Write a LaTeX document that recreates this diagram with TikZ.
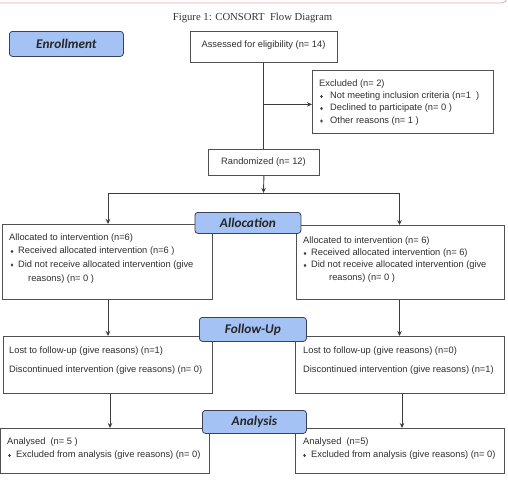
\documentclass[tikz,border=0pt]{standalone}
\usepackage{fontspec}
\setmainfont{Liberation Sans}
\newfontfamily\lblfont{Carlito}
\newfontfamily\titlefont{Liberation Serif}
\usetikzlibrary{arrows.meta}
\definecolor{lblue}{HTML}{A4C2F4}
\definecolor{lborder}{HTML}{3A4257}
\definecolor{linec}{HTML}{3C3C3C}
\definecolor{pinkline}{HTML}{E8A8A0}
\newcommand{\bulat}[2]{\fill[linec] (#1,#2) ++(0,-1.7) -- ++(1.3,1.7) -- ++(-1.3,1.7) -- ++(-1.3,-1.7) -- cycle;}
\begin{document}
\begin{tikzpicture}[x=1pt,y=-1pt,
  box/.style={draw=linec!90, line width=0.8pt, inner sep=0, anchor=north west},
  lbl/.style={draw=lborder, fill=lblue, line width=0.8pt, rounded corners=3pt, inner sep=0, anchor=north west,
     font=\lblfont\bfseries\itshape\fontsize{13.3}{15}\selectfont, text=black!85},
  txt/.style={inner sep=0, anchor=west, font=\fontsize{9.3}{11}\selectfont, text=black!82},
  conn/.style={draw=linec, line width=0.9pt},
  arr/.style={conn, -{Stealth[length=5pt,width=4.5pt]}}]
\useasboundingbox (0,0) rectangle (508,499);
% page border remnant
\draw[pinkline, line width=0.8pt] (-2,3) -- (500,3) .. controls (505,3) and (507,1) .. (507,-4);
% title
\node[inner sep=0, font=\titlefont\fontsize{10.7}{12}\selectfont, text=black!80] (title) at (252.5,18) {Figure 1: CONSORT\ \ Flow Diagram};
% enrollment
\node[lbl, minimum width=114pt, minimum height=25pt] (enr) at (9,31) {Enrollment};
\node[box, minimum width=147pt, minimum height=31pt] (assess) at (190,31) {};
\node[txt, anchor=center] (assesst) at (263.5,45.5) {Assessed for eligibility (n= 14)};
% excluded
\node[box, minimum width=181pt, minimum height=63pt] (excl) at (312,70) {};
\node[txt] (ex0) at (319,84) {Excluded (n= 2)};
\node[txt] (ex1) at (330,96.5) {Not meeting inclusion criteria (n=1\ \ )};
\node[txt] (ex2) at (330,108.5) {Declined to participate (n= 0 )};
\node[txt] (ex3) at (330,121) {Other reasons (n= 1 )};
\bulat{321.5}{96.5}\bulat{321.5}{108.5}\bulat{321.5}{121}
% randomized
\node[box, minimum width=111pt, minimum height=26pt] (rand) at (208,149) {};
\node[txt, anchor=center] (randt) at (263.5,162) {Randomized (n= 12)};
% allocation boxes
\node[box, minimum width=210pt, minimum height=75pt] (allL) at (2,224) {};
\node[txt] (al0) at (9,238.5) {Allocated to intervention (n=6)};
\node[txt] (al1) at (18,251.5) {Received allocated intervention (n=6 )};
\node[txt] (al2) at (18,265) {Did not receive allocated intervention (give};
\node[txt] (al3) at (28,279) {reasons) (n= 0 )};
\bulat{12}{251.5}\bulat{12}{265}
\node[box, minimum width=208pt, minimum height=74pt] (allR) at (296,225) {};
\node[txt] (ar0) at (303,241) {Allocated to intervention (n= 6)};
\node[txt] (ar1) at (311,253.5) {Received allocated intervention (n= 6)};
\node[txt] (ar2) at (311,265.5) {Did not receive allocated intervention (give};
\node[txt] (ar3) at (329,278) {reasons) (n= 0 )};
\bulat{305}{253.5}\bulat{305}{265.5}
% follow-up boxes
\node[box, minimum width=209pt, minimum height=57pt] (fuL) at (3,336) {};
\node[txt] (fl0) at (9,351) {Lost to follow-up (give reasons) (n=1)};
\node[txt] (fl1) at (9,370) {Discontinued intervention (give reasons) (n= 0)};
\node[box, minimum width=209pt, minimum height=57pt] (fuR) at (295,336) {};
\node[txt] (fr0) at (303,351) {Lost to follow-up (give reasons) (n=0)};
\node[txt] (fr1) at (303,370) {Discontinued intervention (give reasons) (n=1)};
% analysis boxes
\node[box, minimum width=209pt, minimum height=45pt] (anL) at (0,428) {};
\node[txt] (nl0) at (7,442) {Analysed\ \ (n= 5 )};
\node[txt] (nl1) at (16,455.5) {Excluded from analysis (give reasons) (n= 0)};
\bulat{9.5}{455.5}
\node[box, minimum width=209pt, minimum height=45pt] (anR) at (295,428) {};
\node[txt] (nr0) at (303,442) {Analysed\ \ (n=5)};
\node[txt] (nr1) at (311,455.5) {Excluded from analysis (give reasons) (n= 0)};
\bulat{304.5}{455.5}
% connectors
\draw[conn] (assess.south) -- (rand.north);
\draw[arr] (assess.south |- excl.west) ++(0,2.5) coordinate (exj) -- (exj -| excl.west);
\coordinate (split) at (263.5,193);
\draw[arr] (rand.south) -- (split);
\coordinate (splitL) at (108,193);
\coordinate (splitR) at (399.5,193);
\draw[conn] (splitL) -- (splitR);
\draw[arr] (splitL) -- (splitL |- allL.north);
\draw[arr] (splitR) -- (splitR |- allR.north);
\draw[arr] (allL.south -| splitL) -- (fuL.north -| splitL);
\draw[arr] (allR.south -| splitR) -- (fuR.north -| splitR);
\coordinate (aL) at (110,0);
\coordinate (aR) at (402,0);
\draw[arr] (fuL.south -| aL) -- (anL.north -| aL);
\draw[arr] (fuR.south -| aR) -- (anR.north -| aR);
% section labels
\node[lbl, minimum width=106pt, minimum height=21pt] (alloc) at (194.5,212) {Allocation};
\node[lbl, minimum width=107pt, minimum height=24pt] (follow) at (199,317) {Follow-Up};
\node[lbl, minimum width=104pt, minimum height=23pt] (analysis) at (202,410) {Analysis};
\end{tikzpicture}
\end{document}
